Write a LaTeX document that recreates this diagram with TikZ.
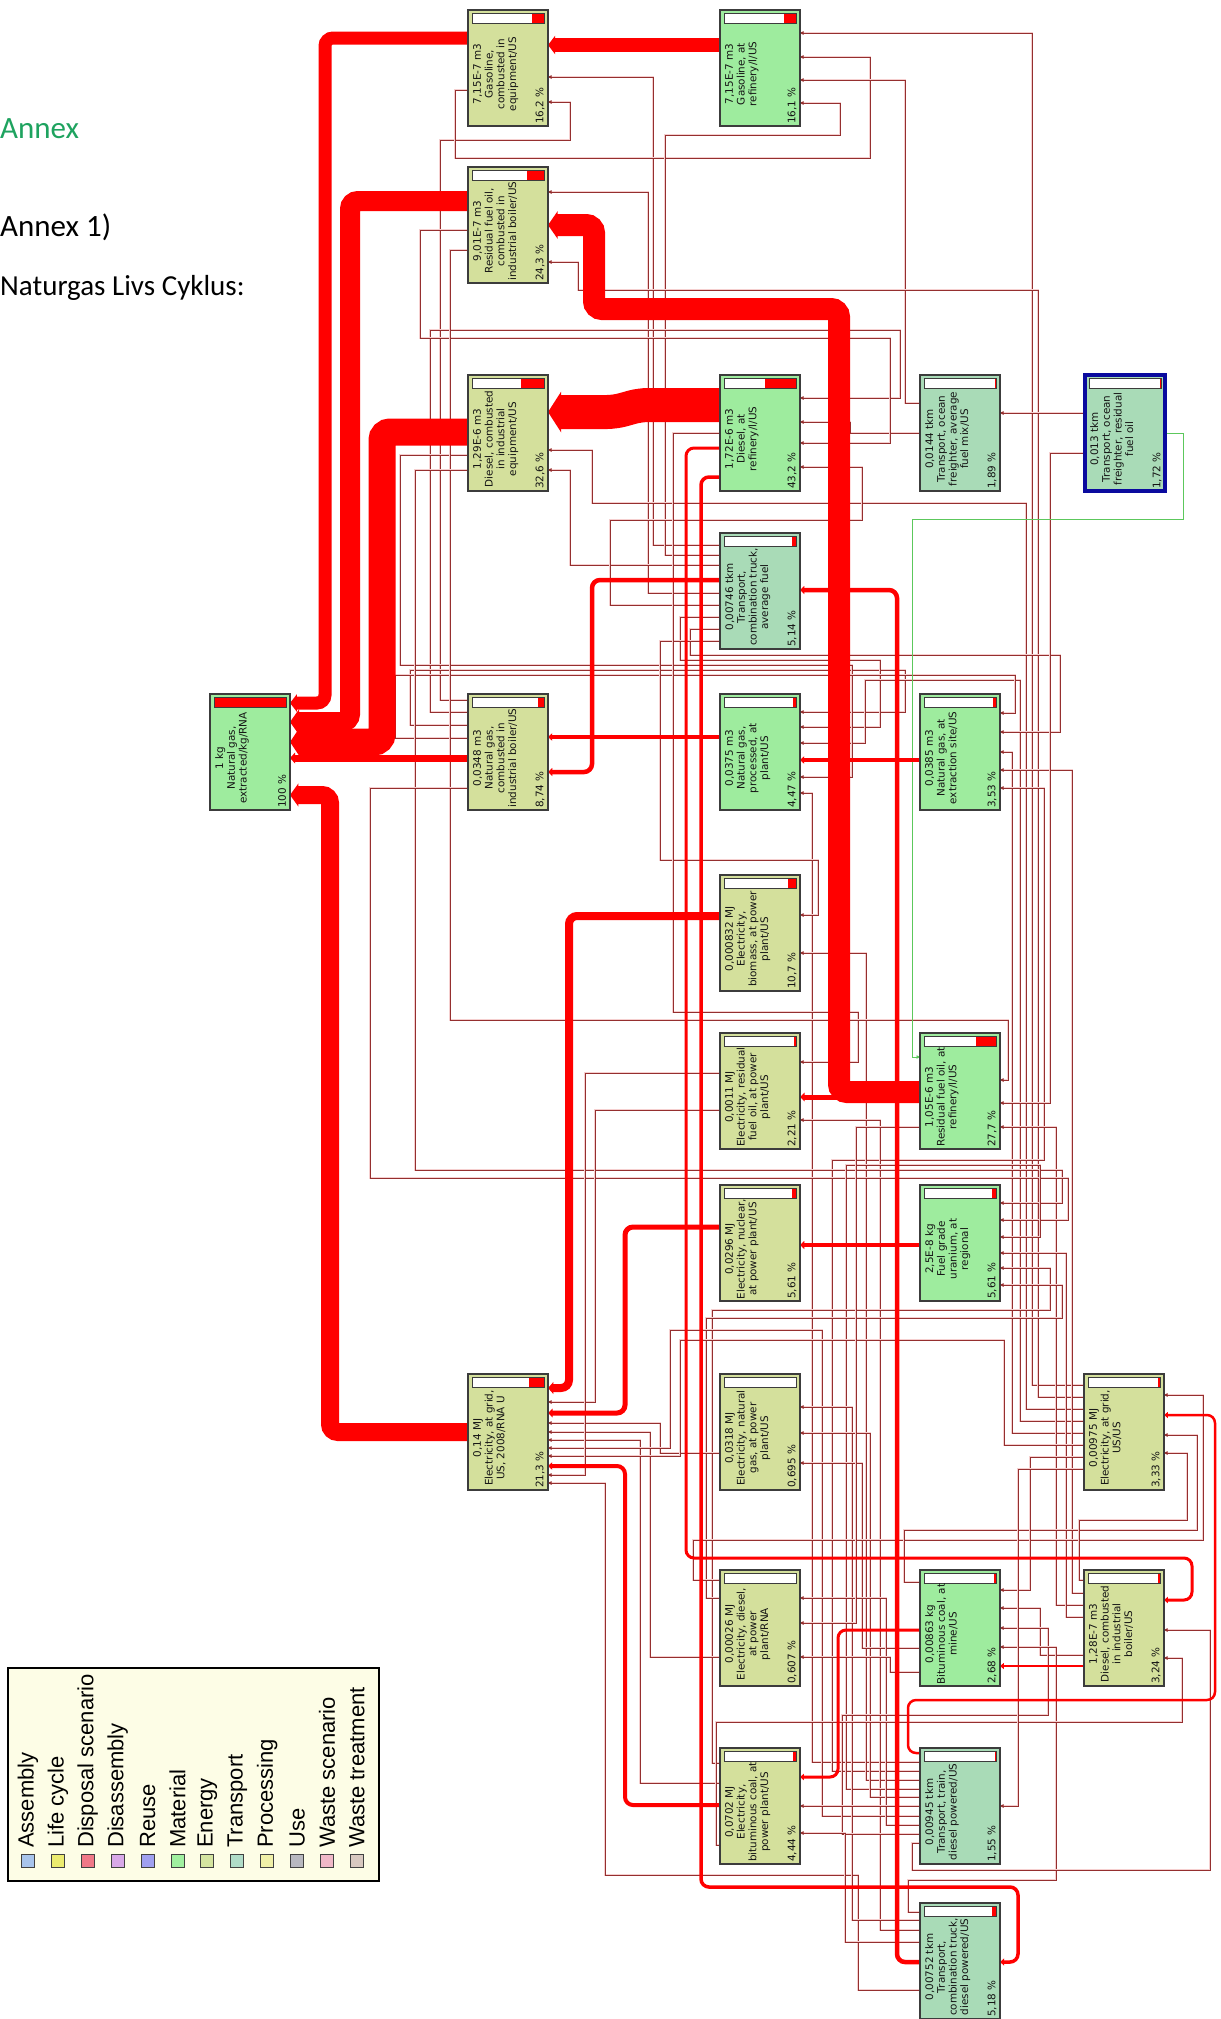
\documentclass[tikz,border=0pt]{standalone}
\usepackage{fontspec}
\newfontfamily\dvs{DejaVu Sans}
\newfontfamily\libs{Liberation Sans}
\newfontfamily\carl{Carlito}
\usetikzlibrary{arrows.meta}
\pgfdeclarelayer{bg}
\pgfsetlayers{bg,main}
\definecolor{cEn}{HTML}{D4E09C}
\definecolor{cMa}{HTML}{9EEC9E}
\definecolor{cTr}{HTML}{A9DBB7}
\definecolor{tdark}{HTML}{952F2F}
\definecolor{tpink}{HTML}{F5CFCF}
\definecolor{bord}{HTML}{3C3C3C}
\definecolor{legbg}{HTML}{FDFDE6}
\definecolor{annexg}{HTML}{1EA35F}
\definecolor{ofblue}{HTML}{0A0A9E}
\definecolor{glin}{HTML}{5CC85C}
\definecolor{lgA}{HTML}{A8C4EC}
\definecolor{lgB}{HTML}{ECEC70}
\definecolor{lgC}{HTML}{F07888}
\definecolor{lgD}{HTML}{D8A8E8}
\definecolor{lgE}{HTML}{A0A0F0}
\definecolor{lgF}{HTML}{A0F0A0}
\definecolor{lgG}{HTML}{D4E4A0}
\definecolor{lgH}{HTML}{B0DCC8}
\definecolor{lgI}{HTML}{F0F0A8}
\definecolor{lgJ}{HTML}{B8B8C0}
\definecolor{lgK}{HTML}{F0B8C8}
\definecolor{lgL}{HTML}{D8C8C0}
\tikzset{
  pbx/.style={draw=bord, line width=1.2pt, minimum width=80pt, minimum height=116pt, inner sep=0pt, outer sep=0pt},
  lbl/.style={font=\dvs\fontsize{10.4}{11.7}\selectfont, align=center, inner sep=0pt, text=black!92},
  tline/.style={draw=tdark, line width=0.95pt, -{Triangle[length=3.5pt,width=3.5pt]}, preaction={draw=tpink, line width=2.4pt, -}},
  thk/.style={draw=red, line width=#1, rounded corners=8pt, -{Triangle[length=3pt 0.3,width=3pt 1.1]}},
  gline/.style={draw=glin, line width=0.9pt, -{Triangle[length=3.5pt,width=3.5pt]}},
  legtx/.style={font=\libs\fontsize{22}{24}\selectfont, inner sep=0pt, rotate=90, anchor=west},
  legsq/.style={draw=black!75, line width=1pt, minimum size=13pt, inner sep=0pt}
}
\newcommand{\pbox}[7]{%
  \node[pbx, fill=#4, anchor=north west] (#1) at (#2,#3) {};
  \fill[white] ({#2+4},{#3+3}) rectangle ({#2+76},{#3+13});
  \fill[red] ({#2+76-0.72*#5},{#3+3}) rectangle ({#2+76},{#3+13});
  \draw[bord, line width=0.8pt] ({#2+4},{#3+3}) rectangle ({#2+76},{#3+13});
  \node[lbl, rotate=90, anchor=north] (#1-t) at ({#2+5},{#3+64}) {#6};
  \node[lbl, rotate=90, anchor=west] (#1-p) at ({#2+72},{#3+114}) {#7};
}
\newcommand{\lkA}[5]{\draw[tline] (#1.west |- 0,#2) -| (#3,#5) -- (#4.east |- 0,#5);}
\newcommand{\lkB}[7]{\draw[tline] (#1.west |- 0,#2) -| (#3,#4) -| (#5,#7) -- (#6.east |- 0,#7);}
\begin{document}
\begin{tikzpicture}[x=1pt,y=-1pt]
\useasboundingbox (0,0) rectangle (1221,2019);
\begin{pgfonlayer}{bg}
\fill[white] (0,0) rectangle (1221,2019);
\end{pgfonlayer}

% titles
\node[anchor=base west, inner sep=0pt, font=\carl\fontsize{31}{36}\selectfont, text=annexg] (annex) at (0,138) {Annex};
\node[anchor=base west, inner sep=0pt, font=\carl\fontsize{31}{36}\selectfont] (annex1) at (0,236) {Annex 1)};
\node[anchor=base west, inner sep=0pt, font=\carl\fontsize{29}{33}\selectfont] (natur) at (0,295) {Naturgas Livs Cyklus:};

% boxes
\pbox{gascomb}{468}{10}{cEn}{16.2}{7,15E-7 m3\\Gasoline,\\combusted in\\equipment/US}{16,2 \%}
\pbox{gasref}{720}{10}{cMa}{16.1}{7,15E-7 m3\\Gasoline, at\\refinery/l/US}{16,1 \%}
\pbox{rescomb}{468}{167}{cEn}{24.3}{9,01E-7 m3\\Residual fuel oil,\\combusted in\\industrial boiler/US}{24,3 \%}
\pbox{dslcomb}{468}{375}{cEn}{32.6}{1,29E-6 m3\\Diesel, combusted\\in industrial\\equipment/US}{32,6 \%}
\pbox{dslref}{720}{375}{cMa}{43.2}{1,72E-6 m3\\Diesel, at\\refinery/l/US}{43,2 \%}
\pbox{ofavg}{920}{375}{cTr}{1.89}{0,0144 tkm\\Transport, ocean\\freighter, average\\fuel mix/US}{1,89 \%}
\pbox{ofres}{1085}{375}{cTr}{1.72}{0,013 tkm\\Transport, ocean\\freighter, residual\\fuel oil}{1,72 \%}
\draw[ofblue, line width=4pt] (ofres.north west) rectangle (ofres.south east);
\pbox{truckavg}{720}{533}{cTr}{5.14}{0,00746 tkm\\Transport,\\combination truck,\\average fuel}{5,14 \%}
\pbox{ngext}{210}{694}{cMa}{100}{1 kg\\Natural gas,\\extracted/kg/RNA}{100 \%}
\pbox{ngcomb}{468}{694}{cEn}{8.74}{0,0348 m3\\Natural gas,\\combusted in\\industrial boiler/US}{8,74 \%}
\pbox{ngproc}{720}{694}{cMa}{4.47}{0,0375 m3\\Natural gas,\\processed, at\\plant/US}{4,47 \%}
\pbox{ngsite}{920}{694}{cMa}{3.53}{0,0385 m3\\Natural gas, at\\extraction site/US}{3,53 \%}
\pbox{elbio}{720}{875}{cEn}{10.7}{0,000832 MJ\\Electricity,\\biomass, at power\\plant/US}{10,7 \%}
\pbox{elres}{720}{1033}{cEn}{2.21}{0,0011 MJ\\Electricity, residual\\fuel oil, at power\\plant/US}{2,21 \%}
\pbox{resref}{920}{1033}{cMa}{27.7}{1,05E-6 m3\\Residual fuel oil, at\\refinery/l/US}{27,7 \%}
\pbox{elnuc}{720}{1185}{cEn}{5.61}{0,0296 MJ\\Electricity, nuclear,\\at power plant/US}{5,61 \%}
\pbox{uran}{920}{1185}{cMa}{5.61}{2,5E-8 kg\\Fuel grade\\uranium, at\\regional}{5,61 \%}
\pbox{elgrid}{468}{1374}{cEn}{21.3}{0,14 MJ\\Electricity, at grid,\\US, 2008/RNA U}{21,3 \%}
\pbox{elng}{720}{1374}{cEn}{0.695}{0,0318 MJ\\Electricity, natural\\gas, at power\\plant/US}{0,695 \%}
\pbox{elgridus}{1084}{1374}{cEn}{3.33}{0,00975 MJ\\Electricity, at grid,\\US/US}{3,33 \%}
\pbox{eldsl}{720}{1570}{cEn}{0.607}{0,00026 MJ\\Electricity, diesel,\\at power\\plant/RNA}{0,607 \%}
\pbox{coal}{920}{1570}{cMa}{2.68}{0,00863 kg\\Bituminous coal, at\\mine/US}{2,68 \%}
\pbox{dslboil}{1084}{1570}{cEn}{3.24}{1,28E-7 m3\\Diesel, combusted\\in industrial\\boiler/US}{3,24 \%}
\pbox{elcoal}{720}{1748}{cEn}{4.44}{0,0702 MJ\\Electricity,\\bituminous coal, at\\power plant/US}{4,44 \%}
\pbox{train}{920}{1748}{cTr}{1.55}{0,00945 tkm\\Transport, train,\\diesel powered/US}{1,55 \%}
\pbox{truckdsl}{920}{1903}{cTr}{5.18}{0,00752 tkm\\Transport,\\combination truck,\\diesel powered/US}{5,18 \%}

% legend
\node[draw=black, line width=1.5pt, fill=legbg, minimum width=371pt, minimum height=213pt, inner sep=0pt, anchor=north west] (legend) at (7,1667) {};
\foreach \i/\t/\c in {0/Assembly/lgA, 1/Life cycle/lgB, 2/Disposal scenario/lgC, 3/Disassembly/lgD, 4/Reuse/lgE, 5/Material/lgF, 6/Energy/lgG, 7/Transport/lgH, 8/Processing/lgI, 9/Use/lgJ, 10/Waste scenario/lgK, 11/Waste treatment/lgL}{
  \node[legsq, fill=\c] (lsq\i) at ({28+29.9*\i},1861) {};
  \node[legtx] (ltx\i) at ({28+29.9*\i},1848) {\t};
}

\begin{pgfonlayer}{bg}
% thin connectors
\lkA{truckavg}{545}{653}{gascomb}{77}
\lkB{ngcomb}{700}{440}{140}{570}{gascomb}{102}
\lkA{elgridus}{1385}{1032}{gasref}{33}
\lkB{gascomb}{90}{455}{158}{870}{gasref}{57}
\lkA{ofavg}{403}{905}{gasref}{80}
\lkB{truckavg}{555}{665}{135}{840}{gasref}{103}
\lkA{truckavg}{593}{648}{rescomb}{192}
\lkB{elgridus}{1397}{1038}{290}{578}{rescomb}{262}
\lkA{truckavg}{565}{570}{dslcomb}{470}
\lkB{elgridus}{1409}{1026}{503}{592}{dslcomb}{450}
\lkB{ngcomb}{712}{430}{330}{900}{dslref}{398}
\lkA{ofavg}{433}{850}{dslref}{422}
\lkB{rescomb}{230}{420}{338}{890}{dslref}{443}
\lkB{truckavg}{605}{610}{520}{862}{dslref}{467}
\draw[tline] (ofres.west |- 0,413) -- (ofavg.east |- 0,413);
\lkB{ngcomb}{725}{410}{670}{905}{ngproc}{712}
\lkB{truckavg}{617}{680}{660}{880}{ngproc}{727}
\lkB{elgridus}{1421}{1020}{680}{865}{ngproc}{743}
\lkB{dslcomb}{455}{400}{665}{852}{ngproc}{777}
\lkA{train}{1762}{812}{ngproc}{793}
\lkB{ngcomb}{738}{395}{675}{1015}{ngsite}{713}
\lkB{truckavg}{629}{690}{655}{1060}{ngsite}{732}
\lkA{elgridus}{1433}{1012}{ngsite}{752}
\lkA{dslboil}{1593}{1072}{ngsite}{770}
\lkB{train}{1771}{832}{1160}{1044}{ngsite}{788}
\lkB{truckavg}{641}{660}{860}{818}{elbio}{915}
\lkA{train}{1780}{866}{elbio}{953}
\lkB{dslref}{433}{673}{1012}{858}{elres}{1062}
\lkA{truckdsl}{1930}{880}{elres}{1120}
\lkB{rescomb}{250}{450}{1020}{1008}{resref}{1080}
\lkA{ofres}{453}{1050}{resref}{1103}
\lkA{dslboil}{1605}{1056}{resref}{1127}
\lkB{dslcomb}{470}{415}{1170}{1062}{uran}{1203}
\lkB{ngcomb}{788}{370}{1178}{1068}{uran}{1220}
\lkB{train}{1789}{846}{1165}{1040}{uran}{1237}
\lkA{dslboil}{1617}{1066}{uran}{1253}
\lkB{elcoal}{1763}{712}{1310}{1050}{uran}{1268}
\lkB{eldsl}{1598}{706}{1318}{1062}{uran}{1285}
\lkA{elres}{1110}{595}{elgrid}{1402}
\lkA{elng}{1453}{660}{elgrid}{1423}
\lkA{eldsl}{1657}{650}{elgrid}{1432}
\lkA{elcoal}{1783}{640}{elgrid}{1440}
\lkB{train}{1816}{822}{1330}{670}{elgrid}{1448}
\lkB{elgridus}{1445}{1004}{1340}{680}{elgrid}{1456}
\lkA{elres}{1073}{585}{elgrid}{1475}
\lkB{truckdsl}{1990}{858}{1875}{605}{elgrid}{1483}
\lkA{truckdsl}{1920}{852}{elng}{1407}
\lkA{train}{1797}{870}{elng}{1433}
\lkA{coal}{1648}{862}{elng}{1463}
\lkB{eldsl}{1580}{693}{1540}{1203}{elgridus}{1395}
\lkB{coal}{1582}{904}{1530}{1197}{elgridus}{1435}
\lkB{dslboil}{1580}{1079}{1520}{1187}{elgridus}{1453}
\lkA{train}{1825}{886}{eldsl}{1598}
\lkA{resref}{1127}{856}{eldsl}{1623}
\lkA{coal}{1672}{890}{eldsl}{1657}
\lkA{elgridus}{1457}{1030}{coal}{1590}
\lkA{dslboil}{1655}{1040}{coal}{1608}
\lkB{train}{1834}{842}{1715}{1048}{coal}{1628}
\lkB{truckdsl}{1912}{908}{1880}{1056}{coal}{1647}
\lkB{train}{1843}{912}{1870}{1210}{dslboil}{1630}
\lkB{elcoal}{1845}{716}{1722}{1182}{dslboil}{1658}
\draw[tline] (train.west |- 0,1806) -- (elcoal.east |- 0,1806);
\lkA{truckdsl}{1942}{845}{elcoal}{1833}
\lkA{elgridus}{1469}{1018}{train}{1806}
% green
\draw[gline] (ofres.east |- 0,433) -| (1183,519) -| (912,1057) -- (resref.west |- 0,1057);
% red flows
\draw[thk=5pt] (resref.west |- 0,1097) -- (elres.east |- 0,1097);
\draw[thk=14pt] (gasref.west |- 0,45) -- (gascomb.east |- 0,45);
\draw[thk=13pt] (gascomb.west |- 0,38) -| (325,703) -- (ngext.east |- 0,703);
\draw[thk=20pt] (rescomb.west |- 0,201) -| (350,722) -- (ngext.east |- 0,722);
\draw[thk=27pt] (dslcomb.west |- 0,432) -| (382,742) -- (ngext.east |- 0,742);
\draw[thk=7pt] (ngcomb.west |- 0,758) -- (ngext.east |- 0,758);
\draw[thk=18pt] (elgrid.west |- 0,1432) -| (330,795) -- (ngext.east |- 0,795);
\draw[thk=34pt] (dslref.west |- 0,405) -- (640,405) -- (615,412) -- (dslcomb.east |- 0,412);
\draw[thk=22pt] (resref.west |- 0,1092) -| (839,309) -| (594,225) -- (rescomb.east |- 0,225);
\draw[thk=4pt] (ngproc.west |- 0,737) -- (ngcomb.east |- 0,737);
\draw[thk=4pt] (ngsite.west |- 0,760) -- (ngproc.east |- 0,760);
\draw[thk=4.5pt] (truckavg.west |- 0,580) -| (592,772) -- (ngcomb.east |- 0,772);
\draw[thk=4.5pt] (truckdsl.west |- 0,1962) -| (897,590) -- (truckavg.east |- 0,590);
\draw[thk=8pt] (elbio.west |- 0,916) -| (569,1388) -- (elgrid.east |- 0,1388);
\draw[thk=5pt] (elnuc.west |- 0,1227) -| (625,1413) -- (elgrid.east |- 0,1413);
\draw[thk=4pt] (elcoal.west |- 0,1805) -| (625,1466) -- (elgrid.east |- 0,1466);
\draw[thk=4.5pt] (uran.west |- 0,1245) -- (elnuc.east |- 0,1245);
\draw[thk=3pt] (coal.west |- 0,1630) -| (838,1777) -- (elcoal.east |- 0,1777);
\draw[thk=3pt] (dslref.west |- 0,448) -| (686,1558) -| (1192,1600) -- (dslboil.east |- 0,1600);
\draw[thk=3.5pt] (dslref.west |- 0,477) -| (701,1887) -| (1018,1962) -- (truckdsl.east |- 0,1962);
\draw[thk=2.5pt] (dslboil.west |- 0,1666) -- (coal.east |- 0,1666);
\draw[thk=2.5pt] (train.west |- 0,1753) -| (908,1700) -| (1215,1415) -- (elgridus.east |- 0,1415);
\end{pgfonlayer}
\end{tikzpicture}
\end{document}
